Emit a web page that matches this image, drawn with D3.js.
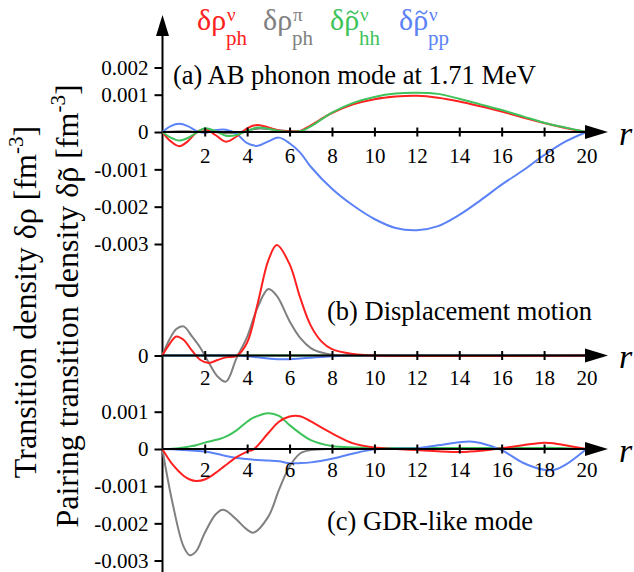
<!DOCTYPE html>
<html><head><meta charset="utf-8">
<script src="https://cdn.jsdelivr.net/npm/d3@7"></script>
<style>body{margin:0;background:#fff} svg{display:block}</style>
</head><body><svg id="c" width="634" height="572"></svg>
<script>
// values in units of 10^-3 fm^-3
const rA = [0,0.4,0.8,1.2,1.6,2,2.5,3,3.5,4,4.5,5,5.5,6,6.5,7,8,9,10,11,12,13,14,15,16,17,18,19,20];
const redA   = [0,-0.25,-0.38,-0.25,-0.02,0.08,-0.08,-0.26,-0.12,0.1,0.19,0.12,0.04,0.02,0.03,0.18,0.51,0.74,0.88,0.95,0.97,0.92,0.82,0.69,0.55,0.39,0.24,0.11,0];
const grayA  = [0,0.01,0.02,0.02,0.01,0.02,0,-0.03,-0.02,0.04,0.09,0.08,0.05,0.03,0.02,0.01,0,0,0,0,0,0,0,0,0,0,0,0,0];
const greenA = [0,-0.15,-0.23,-0.16,-0.02,0.1,0.03,-0.1,-0.08,0.03,0.12,0.09,0.03,0.01,0.02,0.15,0.52,0.78,0.94,1.04,1.07,1.03,0.89,0.74,0.59,0.42,0.25,0.12,0];
const blueA  = [0,0.16,0.22,0.16,0.03,-0.02,0.05,0.06,-0.05,-0.3,-0.37,-0.25,-0.15,-0.3,-0.55,-0.93,-1.52,-1.97,-2.33,-2.57,-2.63,-2.52,-2.22,-1.83,-1.41,-1.03,-0.62,-0.26,0];

const rB = [0,0.33,0.66,1,1.4,1.8,2.2,2.6,3,3.5,4,4.5,5,5.4,6,6.5,7,7.5,8,9,10,20];
const redB   = [0,0.3,0.51,0.42,0.13,-0.12,-0.2,-0.12,-0.05,-0.01,0.35,1.4,2.55,2.96,2.45,1.55,0.8,0.38,0.17,0.04,0,0];
const grayB  = [0,0.42,0.71,0.78,0.51,0.2,-0.2,-0.56,-0.7,-0.07,0.5,1.3,1.78,1.6,0.92,0.47,0.2,0.08,0.02,0,0,0];
const greenB = [0,0,0,0,0,0,0,0,0,0,0,0,0,0,0,0,0,0,0,0,0,0];
const blueB  = [0,0,0,0,0,0,0,0,0,0,-0.02,-0.05,-0.08,-0.1,-0.1,-0.08,-0.06,-0.04,-0.02,0,0,0];

const rC = [0,0.5,1,1.3,1.6,2,2.5,2.8,3,3.5,4,4.3,5,5.5,6,6.5,7,8,9,10,11,12,13,14,14.5,15,16,17,18,18.5,19,20];
const redC   = [0,-0.43,-0.72,-0.82,-0.86,-0.82,-0.65,-0.52,-0.43,-0.22,-0.07,-0.01,0.43,0.73,0.87,0.88,0.74,0.42,0.15,0.04,0,-0.03,-0.06,-0.08,-0.07,-0.05,0.02,0.1,0.17,0.15,0.1,0];
const grayC  = [0,-1.5,-2.62,-2.86,-2.75,-2.26,-1.77,-1.64,-1.66,-1.9,-2.17,-2.25,-1.82,-1.1,-0.47,-0.12,-0.03,0,0,0,0,0,0,0,0,0,0,0,0,0,0,0];
const greenC = [0,0.01,0.04,0.07,0.1,0.17,0.24,0.29,0.33,0.5,0.73,0.84,0.96,0.89,0.64,0.42,0.24,0.08,0.04,0.03,0.03,0.03,0.03,0.03,0.03,0.03,0.03,0.03,0.03,0.03,0.02,0];
const blueC  = [0,-0.01,-0.03,-0.04,-0.05,-0.07,-0.12,-0.16,-0.19,-0.24,-0.27,-0.29,-0.31,-0.33,-0.38,-0.38,-0.36,-0.26,-0.12,-0.01,0.01,0.02,0.1,0.18,0.2,0.16,-0.03,-0.37,-0.56,-0.56,-0.43,0];

const xTicks = [2,4,6,8,10,12,14,16,18,20];
const yTicksA = [2,1,0,-1,-2,-3];
const yLabelsA = ["0.002","0.001","0","-0.001","-0.002","-0.003"];
const yTicksB = [0];
const yLabelsB = ["0"];
const yTicksC = [1,0,-1,-2,-3];
const yLabelsC = ["0.001","0","-0.001","-0.002","-0.003"];
const panelTitles = ["(a) AB phonon mode at 1.71 MeV","(b) Displacement motion","(c) GDR-like mode"];

const colors = {red:"#ff2020", gray:"#808080", green:"#3ec35b", blue:"#5b82f6"};
const SERIF = "Liberation Serif";

const svg = d3.select("#c");
const x = d3.scaleLinear().domain([0,20]).range([162.3,586.5]);
const X0 = 162.5;

const panels = [
  {r:rA, series:[["gray",grayA],["blue",blueA],["red",redA],["green",greenA]],
   y:d3.scaleLinear().domain([-3,1,2]).range([244,94.7,67.5]), ticks:yTicksA, labels:yLabelsA,
   title:panelTitles[0], tx:173, ty:84, lab:31, ry:145},
  {r:rB, series:[["green",greenB],["blue",blueB],["gray",grayB],["red",redB]],
   y:d3.scaleLinear().domain([0,1]).range([355.5,318.2]), ticks:yTicksB, labels:yLabelsB,
   title:panelTitles[1], tx:327, ty:320, lab:29.5, ry:368},
  {r:rC, series:[["gray",grayC],["green",greenC],["blue",blueC],["red",redC]],
   y:d3.scaleLinear().domain([-3,0,1]).range([560.5,449,411.7]), ticks:yTicksC, labels:yLabelsC,
   title:panelTitles[2], tx:327, ty:530, lab:28, ry:462}
];

// vertical axis
svg.append("line").attr("x1",X0).attr("x2",X0).attr("y1",30).attr("y2",572)
  .attr("stroke","#000").attr("stroke-width",2);
svg.append("path").attr("d",`M${X0},15 L${X0-6.5},36 L${X0+6.5},36 Z`).attr("fill","#000");

const line = d3.line().curve(d3.curveCatmullRom.alpha(0.5));

panels.forEach(p=>{
  const y0 = p.y(0);
  p.series.forEach(([c,vals])=>{
    const pts = p.r.map((r,i)=>[x(r), p.y(vals[i])]);
    svg.append("path").attr("d",line(pts)).attr("fill","none")
      .attr("stroke",colors[c]).attr("stroke-width",2);
  });
  const gx = svg.append("g").attr("transform",`translate(0,${y0})`)
    .call(d3.axisBottom(x).tickValues(xTicks).tickSize(4.5).tickPadding(0));
  gx.select(".domain").remove();
  gx.selectAll(".tick line").attr("y1",-4.5).attr("y2",4.5).attr("stroke","#000").attr("stroke-width",2);
  gx.selectAll(".tick text").attr("y",p.lab).attr("dy",0).attr("font-size",21).attr("fill","#000");
  svg.append("line").attr("x1",X0).attr("x2",590).attr("y1",y0).attr("y2",y0)
    .attr("stroke","#000").attr("stroke-width",2);
  svg.append("path").attr("d",`M608,${y0} L585,${y0-7} L585,${y0+7} Z`).attr("fill","#000");
  svg.append("text").attr("x",619).attr("y",p.ry).attr("font-size",34)
    .attr("font-style","italic").text("r");
  const gy = svg.append("g").attr("transform",`translate(${X0},0)`)
    .call(d3.axisLeft(p.y).tickValues(p.ticks).tickSize(8).tickPadding(6)
      .tickFormat((d,i)=>p.labels[i]));
  gy.select(".domain").remove();
  gy.selectAll(".tick line").attr("stroke","#000").attr("stroke-width",2);
  gy.selectAll(".tick text").attr("font-size",21).attr("fill","#000");
  svg.append("text").attr("x",p.tx).attr("y",p.ty).attr("font-size",26.5).text(p.title);
});

svg.selectAll("text").style("font-family",SERIF);

function measure(txt, size){
  const t = svg.append("text").attr("font-size",size).style("font-family",SERIF).text(txt);
  const w = t.node().getComputedTextLength(); t.remove(); return w;
}

// legend
const legend = [
  {c:"red", main:"δρ", tilde:false, sup:"ν", sub:"ph", x:197},
  {c:"gray", main:"δρ", tilde:false, sup:"π", sub:"ph", x:263},
  {c:"green", main:"δρ", tilde:true, sup:"ν", sub:"hh", x:330},
  {c:"blue", main:"δρ", tilde:true, sup:"ν", sub:"pp", x:399}
];
const LS = 30;
legend.forEach(l=>{
  const g = svg.append("g").attr("fill",colors[l.c]);
  const t = g.append("text").attr("x",l.x).attr("y",30).attr("font-size",LS).style("font-family",SERIF).text(l.main);
  const w = t.node().getComputedTextLength();
  if(l.tilde){
    const wd = measure("δ",LS), wr = measure("ρ",LS);
    const cx = l.x+wd+wr/2+1, cy = 12.5;
    g.append("path").attr("fill","none").attr("stroke",colors[l.c]).attr("stroke-width",1.6)
      .attr("d",`M${cx-5.5},${cy+2} C${cx-4},${cy-2} ${cx-1.5},${cy-1.5} ${cx},${cy} S${cx+4},${cy+2} ${cx+5.5},${cy-2}`);
  }
  g.append("text").attr("x",l.x+w+1).attr("y",21).attr("font-size",19).style("font-family",SERIF).text(l.sup);
  g.append("text").attr("x",l.x+w).attr("y",45).attr("font-size",21).style("font-family",SERIF).text(l.sub);
});

// y labels
const YS = 32;
function ylab(txt, tilde, cx, cy){
  const t = svg.append("text").attr("transform",`translate(${cx},${cy}) rotate(-90)`)
    .attr("text-anchor","middle").attr("font-size",YS).style("font-family",SERIF);
  t.append("tspan").text(txt);
  if(tilde){
    const wr = measure("ρ",YS), wt = measure("˜",YS);
    t.append("tspan").attr("dx",-(wr/2+wt/2)).attr("dy",1).text("˜");
    t.append("tspan").attr("dx",wr/2-wt/2).attr("dy",-1).text(" [fm");
  } else {
    t.append("tspan").text(" [fm");
  }
  t.append("tspan").attr("dy",-13).attr("font-size",21).text("-3");
  t.append("tspan").attr("dy",13).text("]");
}
ylab("Transition density δρ", false, 36, 302);
ylab("Pairing transition density δρ", true, 78, 306);
</script></body></html>
